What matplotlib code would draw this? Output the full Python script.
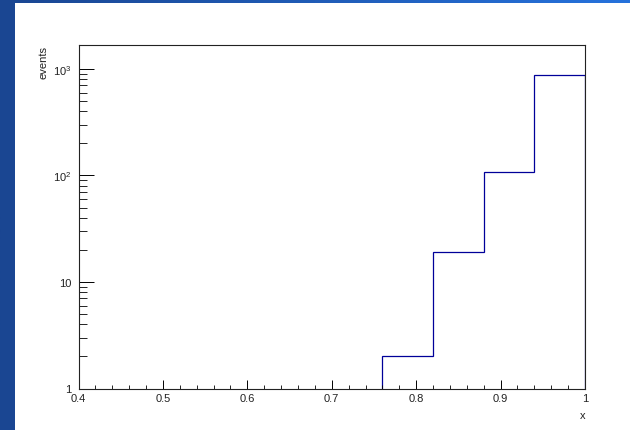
import numpy as np
import matplotlib
matplotlib.use("Agg")
import matplotlib.pyplot as plt
from matplotlib.patches import Rectangle
from matplotlib.ticker import MultipleLocator, LogLocator, NullFormatter

plt.rcParams['font.family'] = ['Liberation Sans', 'DejaVu Sans']
plt.rcParams['mathtext.fontset'] = 'custom'
plt.rcParams['mathtext.rm'] = 'Liberation Sans'
plt.rcParams['mathtext.it'] = 'Liberation Sans:italic'

# histogram contents (only the non-empty bins, log y)
bin_edges = [0.76, 0.82, 0.88, 0.94, 1.00]
counts = [2, 19, 108, 877]

y_ticks = [1, 10, 100, 1000]
y_tick_labels = ["1", "10", "$10^{2}$", "$10^{3}$"]

W, H = 630, 431
fig = plt.figure(figsize=(W / 100, H / 100), dpi=100)

# slide background: blue gradient band on top and left, white page
bg = fig.add_axes([0, 0, 1, 1], zorder=-10)
bg.set_xlim(0, W)
bg.set_ylim(H, 0)
bg.axis('off')
c0 = np.array([0x1a, 0x46, 0x92]) / 255
c1 = np.array([0x26, 0x72, 0xdc]) / 255
t = np.linspace(0, 1, 256)
grad = c0[None, :] * (1 - t[:, None]) + c1[None, :] * t[:, None]
bg.imshow(grad[None, :, :], extent=[0, W, H, 0], aspect='auto')
bg.add_patch(Rectangle((15, 4), W - 15, H - 4, facecolor='white', edgecolor='none'))

# main frame
ax = fig.add_axes([78.5 / W, (H - 389.5) / H, 506.5 / W, 343.5 / H])
ax.stairs(counts, bin_edges, baseline=1, color='#000099', lw=0.9)

ax.set_xlim(0.4, 1.0)
ax.set_yscale('log')
ax.set_ylim(1, 1680)

ax.xaxis.set_major_locator(MultipleLocator(0.1))
ax.xaxis.set_minor_locator(MultipleLocator(0.02))
ax.set_xticks([0.4, 0.5, 0.6, 0.7, 0.8, 0.9, 1.0],
              labels=["0.4", "0.5", "0.6", "0.7", "0.8", "0.9", "1"])
ax.set_yticks(y_ticks, labels=y_tick_labels)
ax.yaxis.set_minor_locator(LogLocator(base=10, subs=np.arange(2, 10)))
ax.yaxis.set_minor_formatter(NullFormatter())

for s in ax.spines.values():
    s.set_linewidth(0.8)
    s.set_color('#222222')

ax.tick_params(axis='x', which='major', direction='in', length=6.5, width=0.7,
               labelsize=8, pad=3.5, top=False, labelcolor='#222222')
ax.tick_params(axis='x', which='minor', direction='in', length=3.2, width=0.6, top=False)
ax.tick_params(axis='y', which='major', direction='in', length=10.8, width=0.7,
               labelsize=8, pad=5, right=False, labelcolor='#222222')
ax.tick_params(axis='y', which='minor', direction='in', length=5.8, width=0.6, right=False)

ax.text(-0.07, 1.0, 'events', rotation=90, ha='center', va='top',
        fontsize=8, color='#222222', transform=ax.transAxes)
ax.text(1.0, -0.076, 'x', ha='right', va='center', fontsize=8,
        color='#222222', transform=ax.transAxes)

fig.savefig('out.png', dpi=100)
